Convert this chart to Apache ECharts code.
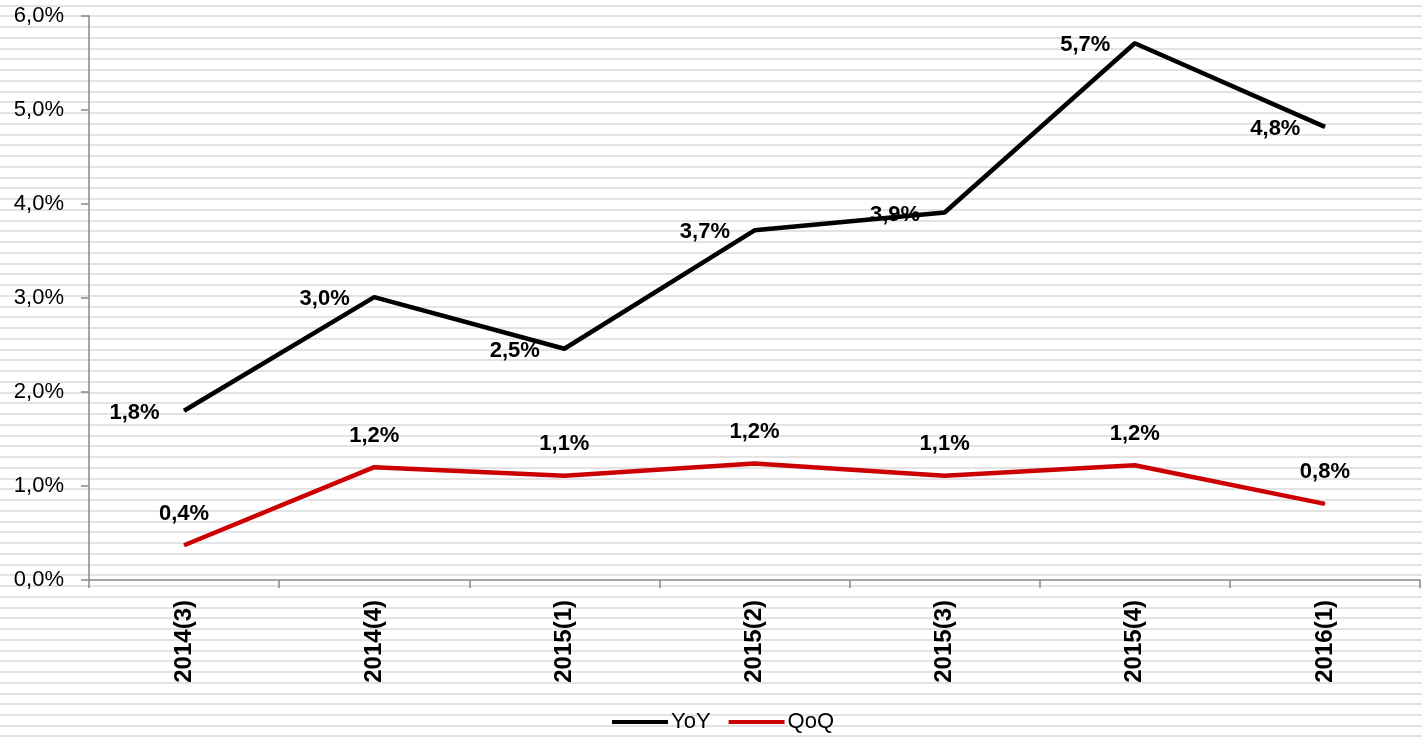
<!DOCTYPE html>
<html>
<head>
<meta charset="utf-8">
<script src="https://cdn.jsdelivr.net/npm/echarts@6/dist/echarts.min.js"></script>
<style>
  html, body { margin: 0; padding: 0; }
  /* 背景横条纹（Excel 图案填充） */
  body {
    background-color: #fff;
    background-image: repeating-linear-gradient(to bottom,
      #fff 0px, #fff 4.7px, #e3e3e3 4.7px, #e3e3e3 6.7px, #fff 6.7px, #fff 10.747px);
  }
  #chart { width: 1422px; height: 738px; }
</style>
</head>
<body>
<div id="chart"></div>
<script>
// 数据
const categories = ["2014(3)", "2014(4)", "2015(1)", "2015(2)", "2015(3)", "2015(4)", "2016(1)"];
const yoyValues = [1.80, 3.01, 2.46, 3.72, 3.91, 5.71, 4.82];
const qoqValues = [0.37, 1.20, 1.11, 1.24, 1.11, 1.22, 0.81];
const yTicks = { min: 0, max: 6, interval: 1 };

const FONT = "'Liberation Sans', Arial, sans-serif";
const AXIS_COLOR = "#898989";

const pct = (v) => v.toFixed(1).replace(".", ",") + "%";

const chart = echarts.init(document.getElementById("chart"), null, { renderer: "canvas" });

// 数据标签样式
const labelStyle = {
  show: true,
  color: "#000",
  fontFamily: FONT,
  fontSize: 22,
  fontWeight: "bold",
  formatter: (p) => pct(p.value),
};

chart.setOption({
  backgroundColor: "transparent",
  animation: false,
  textStyle: { fontFamily: FONT },
  grid: { left: 89, right: 2, top: 16, bottom: 158 },
  legend: {
    bottom: 0,
    left: 607,
    icon: "rect",
    itemWidth: 56,
    itemHeight: 4,
    itemGap: 18,
    textStyle: { fontFamily: FONT, fontSize: 22, color: "#000", padding: [0, 0, 0, -2] },
    data: ["YoY", "QoQ"],
  },
  xAxis: {
    type: "category",
    data: categories,
    boundaryGap: true,
    axisLine: { lineStyle: { color: AXIS_COLOR, width: 1.5 } },
    axisTick: { show: true, length: 8, lineStyle: { color: AXIS_COLOR, width: 1.5 } },
    axisLabel: {
      rotate: 90,
      margin: 20,
      color: "#000",
      fontFamily: FONT,
      fontSize: 24,
      fontWeight: "bold",
    },
    splitLine: { show: false },
  },
  yAxis: {
    type: "value",
    min: yTicks.min,
    max: yTicks.max,
    interval: yTicks.interval,
    axisLine: { show: true, lineStyle: { color: AXIS_COLOR, width: 1.5 } },
    axisTick: { show: true, length: 8, lineStyle: { color: AXIS_COLOR, width: 1.5 } },
    axisLabel: {
      margin: 25,
      color: "#000",
      fontFamily: FONT,
      fontSize: 22,
      formatter: pct,
    },
    splitLine: { show: false },
  },
  series: [
    {
      name: "YoY",
      type: "line",
      data: yoyValues,
      symbol: "circle",
      symbolSize: 1,
      showSymbol: true,
      color: "#000000",
      lineStyle: { color: "#000000", width: 4.5 },
      label: { ...labelStyle, position: "left", distance: 24, offset: [0, 2] },
    },
    {
      name: "QoQ",
      type: "line",
      data: qoqValues,
      symbol: "circle",
      symbolSize: 1,
      showSymbol: true,
      color: "#cc0000",
      lineStyle: { color: "#cc0000", width: 4.5 },
      label: { ...labelStyle, position: "top", distance: 20 },
    },
  ],
});

window.addEventListener("resize", () => chart.resize());
</script>
</body>
</html>
